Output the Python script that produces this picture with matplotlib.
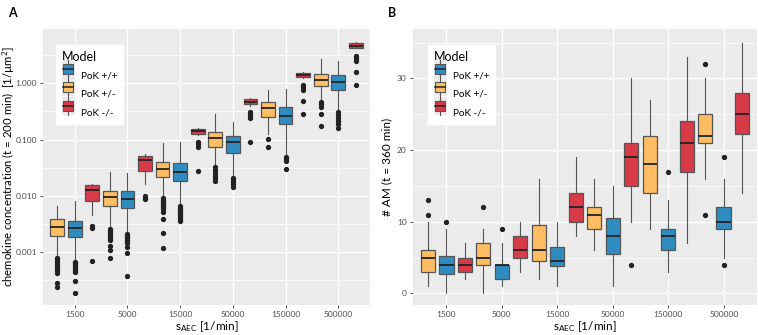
import numpy as np
import matplotlib
matplotlib.use("Agg")
import matplotlib.pyplot as plt
from matplotlib.patches import Rectangle
from matplotlib.lines import Line2D
from matplotlib.legend_handler import HandlerBase

plt.rcParams['font.family'] = ['Lato', 'DejaVu Sans']
plt.rcParams['mathtext.fontset'] = 'custom'
plt.rcParams['mathtext.rm'] = 'Lato'

categories = ['1500', '5000', '15000', '50000', '150000', '500000']
models = ['PoK +/+', 'PoK +/-', 'PoK -/-']
colors = {'PoK +/+': '#2F8CC0', 'PoK +/-': '#FFBE63', 'PoK -/-': '#D93A48'}

# panel A: [whisker low, q1, median, q3, whisker high] per category
a_wt = [[0.00068, 0.00184, 0.00266, 0.00363, 0.0081],
        [0.00226, 0.00603, 0.00881, 0.01207, 0.0252],
        [0.00689, 0.01862, 0.0262, 0.0379, 0.0895],
        [0.0219, 0.0578, 0.0895, 0.1145, 0.208],
        [0.0532, 0.187, 0.266, 0.379, 0.782],
        [0.322, 0.76, 1.067, 1.404, 2.49]]
a_wt_out = [[0.00067, 0.00063, 0.00059, 0.00055, 0.00052, 0.00048, 0.00045, 0.00031, 0.000186],
            [0.0021, 0.00195, 0.00186, 0.00175, 0.00165, 0.00155, 0.00146, 0.00122, 0.00096, 0.00037],
            [0.0066, 0.0062, 0.0059, 0.0055, 0.0052, 0.0049, 0.0046, 0.0043, 0.0040, 0.0037, 0.0035],
            [0.0208, 0.0192, 0.0177, 0.0163, 0.0146],
            [0.0497, 0.0452, 0.0417, 0.0297],
            [0.305, 0.273, 0.242, 0.214, 0.189, 0.159]]
a_het = [[0.00083, 0.00196, 0.00284, 0.00384, 0.0066],
         [0.00266, 0.00662, 0.00945, 0.01236, 0.0262],
         [0.00968, 0.0219, 0.0301, 0.0405, 0.0881],
         [0.033, 0.0748, 0.1055, 0.1349, 0.2814],
         [0.124, 0.255, 0.36, 0.46, 0.751],
         [0.485, 0.906, 1.145, 1.445, 2.67]]
a_het_out = [[0.00079, 0.00072, 0.00067, 0.00062, 0.00057, 0.00052, 0.00048, 0.00043, 0.000287, 0.000244],
             [0.00256, 0.0024, 0.00229, 0.00215, 0.00202, 0.0019, 0.00179, 0.00165, 0.0013, 0.00109, 0.0008],
             [0.0092, 0.0086, 0.0081, 0.0076, 0.0072, 0.0067, 0.0064, 0.0058, 0.0052, 0.00394, 0.00222, 0.00117],
             [0.0325, 0.0289, 0.0255, 0.0226, 0.0208, 0.0184],
             [0.101, 0.0748],
             [0.46, 0.42, 0.384, 0.285, 0.174]]
a_ko = [[0.00458, 0.00822, 0.01273, 0.01543, 0.01627],
        [0.0161, 0.0277, 0.0434, 0.0518, 0.0548],
        [0.1208, 0.1273, 0.1422, 0.1543, 0.1588],
        [0.40, 0.4236, 0.471, 0.52, 0.542],
        [1.217, 1.279, 1.404, 1.542, 1.607],
        [4.15, 4.29, 4.65, 5.13, 5.35]]
a_ko_out = [[0.00292, 0.00266, 0.0007],
            [0.00995, 0.00918, 0.0087],
            [0.0918, 0.0836, 0.0748, 0.028],
            [0.305, 0.285, 0.262, 0.239, 0.0918],
            [0.933, 0.859, 0.76, 0.491, 0.281],
            [3.09, 2.81, 2.49, 1.607, 0.933]]

# panel B
b_wt = [[0, 2.75, 4, 5.25, 9], [1, 2, 4, 4, 7], [1, 3.75, 4.5, 6.5, 10],
        [1, 5.5, 8, 10.5, 15], [3, 6, 8, 9, 13], [5, 9, 10, 12, 16]]
b_wt_out = [[10], [9], [], [], [17], [19, 4]]
b_het = [[1, 3, 5, 6, 10], [0, 4, 5, 7, 9], [2, 4.5, 6, 9.5, 16],
         [6, 9, 11, 12, 16], [9, 14, 18, 22, 27], [16, 21, 22, 25, 30]]
b_het_out = [[11, 13], [12], [], [], [], [32, 11]]
b_ko = [[2, 3, 4, 5, 7], [3, 5, 6, 8, 10], [8, 10, 12, 14, 19],
        [10, 15, 19, 21, 30], [7, 17, 21, 24, 33], [14, 22.25, 25, 28, 35]]
b_ko_out = [[], [], [], [4], [], []]

offsets = {'PoK +/+': 0.0, 'PoK +/-': -1 / 3, 'PoK -/-': 1 / 3}
box_w = 0.26


def draw_boxes(ax, model, rows, outs):
    stats = []
    for r, o in zip(rows, outs):
        stats.append(dict(whislo=r[0], q1=r[1], med=r[2], q3=r[3], whishi=r[4], fliers=o))
    pos = np.arange(len(rows)) + offsets[model]
    ax.bxp(stats, positions=pos, widths=box_w, patch_artist=True, manage_ticks=False,
           boxprops=dict(facecolor=colors[model], edgecolor='#555555', linewidth=0.9),
           medianprops=dict(color='#222222', linewidth=1.3),
           whiskerprops=dict(color='#555555', linewidth=0.8),
           capprops=dict(linewidth=0),
           flierprops=dict(marker='o', markersize=2.8, markerfacecolor='#222222',
                           markeredgecolor='#222222'),
           zorder=3)


class BoxKey(HandlerBase):
    def create_artists(self, legend, orig, xd, yd, w, h, fontsize, trans):
        col = orig.get_facecolor()
        bg = Rectangle((xd, yd - 2), w, h + 4, facecolor='#EBEBEB', edgecolor='none', transform=trans)
        wl = Line2D([xd + w / 2, xd + w / 2], [yd - 2, yd + h + 2], color='#555555', lw=0.8, transform=trans)
        bx = Rectangle((xd + w * 0.12, yd + h * 0.1), w * 0.76, h * 0.8, facecolor=col,
                       edgecolor='#555555', lw=0.8, transform=trans)
        md = Line2D([xd + w * 0.12, xd + w * 0.88], [yd + h / 2, yd + h / 2], color='#222222',
                    lw=1.1, transform=trans)
        return [bg, wl, bx, md]


def style(ax):
    ax.set_facecolor('#EBEBEB')
    for s in ax.spines.values():
        s.set_visible(False)
    ax.grid(which='major', color='white', linewidth=1.0, zorder=0)
    ax.grid(which='minor', axis='y', color='white', linewidth=0.5, zorder=0)
    ax.set_axisbelow(True)
    ax.tick_params(which='major', length=2.5, width=0.6, color='#333333', labelsize=6,
                   labelcolor='#4D4D4D', pad=2)
    ax.tick_params(which='minor', length=0)
    ax.set_xticks(np.arange(len(categories)))
    ax.set_xticklabels(categories)
    ax.set_xlim(-0.6, 5.6)
    ax.set_xlabel(r'$\mathregular{s_{AEC}}$ [1/min]', fontsize=8.5, labelpad=1)


def add_legend(ax, x0):
    handles = [Rectangle((0, 0), 1, 1, facecolor=colors[m]) for m in models]
    leg = ax.legend(handles, models, title='Model', loc='upper left', bbox_to_anchor=(x0, 0.96),
                    handler_map={Rectangle: BoxKey()}, fontsize=7.2, title_fontsize=9,
                    frameon=True, fancybox=False, framealpha=1, edgecolor='white',
                    handlelength=1.3, handleheight=1.55, labelspacing=0.6, borderpad=0.55,
                    handletextpad=0.6)
    leg._legend_box.align = 'left'
    leg.set_zorder(5)


fig = plt.figure(figsize=(7.58, 3.35), dpi=100)
axA = fig.add_axes([43 / 758, 30 / 335, 327 / 758, 276 / 335])
axB = fig.add_axes([413 / 758, 30 / 335, 344 / 758, 276 / 335])

style(axA)
draw_boxes(axA, 'PoK +/+', a_wt, a_wt_out)
draw_boxes(axA, 'PoK +/-', a_het, a_het_out)
draw_boxes(axA, 'PoK -/-', a_ko, a_ko_out)
axA.set_yscale('log')
axA.set_ylim(1.15e-4, 9.2)
axA.set_yticks([0.001, 0.01, 0.1, 1.0])
axA.set_yticklabels(['0.001', '0.010', '0.100', '1.000'])
axA.set_yticks([10 ** -3.5, 10 ** -2.5, 10 ** -1.5, 10 ** -0.5, 10 ** 0.5], minor=True)
axA.set_yticklabels([], minor=True)
axA.set_ylabel('chemokine concentration (t = 200 min)  [1/µm$^2$]', fontsize=8.2)
axA.yaxis.set_label_coords(-0.08, 0.5)
add_legend(axA, 0.025)

style(axB)
draw_boxes(axB, 'PoK +/+', b_wt, b_wt_out)
draw_boxes(axB, 'PoK +/-', b_het, b_het_out)
draw_boxes(axB, 'PoK -/-', b_ko, b_ko_out)
axB.set_ylim(-1.63, 36.9)
axB.set_yticks([0, 10, 20, 30])
axB.set_yticks([5, 15, 25, 35], minor=True)
axB.set_ylabel('# AM (t = 360 min)', fontsize=8.5)
axB.yaxis.set_label_coords(-0.06, 0.5)
add_legend(axB, 0.03)

fig.text(8 / 758, 1 - 13 / 335, 'A', fontsize=9, fontweight='bold', va='center')
fig.text(388 / 758, 1 - 13 / 335, 'B', fontsize=9, fontweight='bold', va='center')

fig.savefig('out.png', dpi=100)
